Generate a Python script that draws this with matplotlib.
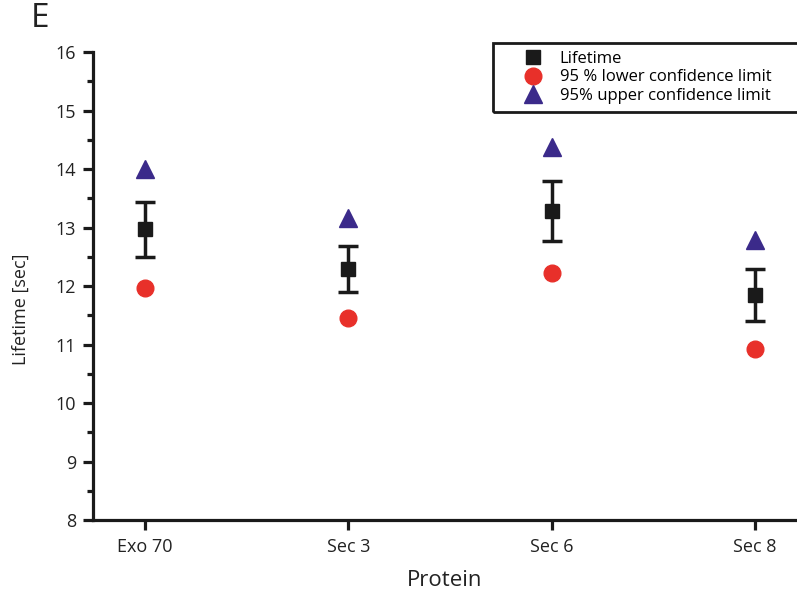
import numpy as np
import matplotlib.pyplot as plt
from matplotlib.patches import Rectangle

plt.rcParams['font.family'] = ['Open Sans', 'DejaVu Sans']

proteins = ['Exo 70', 'Sec 3', 'Sec 6', 'Sec 8']
lifetime = [12.98, 12.29, 13.28, 11.85]
err_low = [12.49, 11.90, 12.77, 11.40]
err_high = [13.43, 12.68, 13.79, 12.29]
lower_ci = [11.97, 11.45, 12.22, 10.92]
upper_ci = [14.00, 13.16, 14.38, 12.79]

x = np.arange(len(proteins))
yerr = [np.array(lifetime) - np.array(err_low), np.array(err_high) - np.array(lifetime)]

fig = plt.figure(figsize=(7.97, 5.92), dpi=100)
ax = fig.add_axes([0.1167, 0.1216, 0.8833, 0.7905])

ax.errorbar(x, lifetime, yerr=yerr, fmt='none', ecolor='#1a1a1a',
            elinewidth=2.5, capsize=7, capthick=2.5, zorder=2)
ax.plot(x, lifetime, 's', color='#1a1a1a', markersize=10, label='Lifetime', zorder=3)
ax.plot(x, lower_ci, 'o', color='#e8302a', markersize=12,
        label='95 % lower confidence limit', zorder=3)
ax.plot(x, upper_ci, '^', color='#3b2a8a', markersize=13,
        label='95% upper confidence limit', zorder=3)

ax.set_xlim(-0.256, 3.207)
ax.set_ylim(8, 16)
ax.set_xticks(x)
ax.set_xticklabels(proteins)
ax.set_yticks(range(8, 17))
ax.set_yticks(np.arange(8.5, 16, 1), minor=True)

for side in ['top', 'right']:
    ax.spines[side].set_visible(False)
for side in ['left', 'bottom']:
    ax.spines[side].set_linewidth(2.3)
    ax.spines[side].set_color('#1a1a1a')

ax.tick_params(axis='both', which='major', direction='out', length=7, width=2.3,
               color='#1a1a1a', labelsize=13, labelcolor='#222222')
ax.tick_params(axis='y', which='minor', direction='out', length=4, width=2.3,
               color='#1a1a1a')
ax.tick_params(axis='x', which='major', pad=6)
ax.tick_params(axis='y', which='major', pad=5)

ax.set_xlabel('Protein', fontsize=16, color='#222222', labelpad=10)
ax.set_ylabel('Lifetime [sec]', fontsize=13, color='#222222')
ax.yaxis.set_label_coords(-0.0895, 0.451)

# legend box drawn by hand so it runs off the right edge like the original
fig.patches.append(Rectangle((0.6186, 0.8108), 0.45, 0.1166, transform=fig.transFigure,
                             fill=False, edgecolor='#1a1a1a', linewidth=2))
leg = ax.legend(loc='upper left', bbox_to_anchor=(0.6583, 0.914),
                bbox_transform=fig.transFigure, frameon=False,
                fontsize=12, handletextpad=1.1, borderpad=0, borderaxespad=0,
                labelspacing=0.15, handlelength=1.0)

fig.text(0.05, 0.969, 'E', fontsize=24, va='center', ha='center', color='#222222')

fig.savefig('out.png', dpi=100)
